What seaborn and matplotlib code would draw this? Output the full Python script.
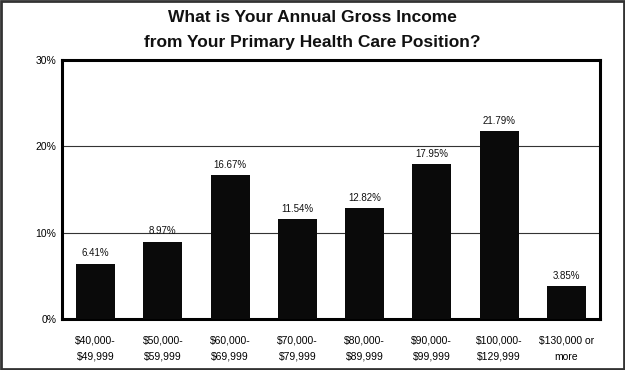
import matplotlib
matplotlib.use("Agg")
import matplotlib.pyplot as plt
import numpy as np
import pandas as pd
import seaborn as sns
from matplotlib import font_manager
from matplotlib.patches import Rectangle
from matplotlib.ticker import FixedLocator

categories = [
    "$40,000-\n$49,999",
    "$50,000-\n$59,999",
    "$60,000-\n$69,999",
    "$70,000-\n$79,999",
    "$80,000-\n$89,999",
    "$90,000-\n$99,999",
    "$100,000-\n$129,999",
    "$130,000 or\nmore",
]
percents = [6.41, 8.97, 16.67, 11.54, 12.82, 17.95, 21.79, 3.85]
y_ticks = [0, 10, 20, 30]
y_tick_labels = ["0%", "10%", "20%", "30%"]
title = "What is Your Annual Gross Income\nfrom Your Primary Health Care Position?"

sns.set_style("white")
plt.rcParams["font.family"] = ["Liberation Sans", "DejaVu Sans"]
plt.rcParams["text.color"] = "black"
plt.rcParams["xtick.color"] = "black"
plt.rcParams["ytick.color"] = "black"

# condensed face if one is around, otherwise plain Liberation Sans
names = {f.name for f in font_manager.fontManager.ttflist}
title_font = "Liberation Sans Narrow" if "Liberation Sans Narrow" in names else "Liberation Sans"
title_size = 14.5 if title_font == "Liberation Sans Narrow" else 12.5

df = pd.DataFrame({"category": categories, "percent": percents})

fig = plt.figure(figsize=(6.25, 3.7), dpi=100)
ax = fig.add_axes([62 / 625, 1 - 319 / 370, 538 / 625, 259 / 370])

sns.barplot(data=df, x="category", y="percent", color="#0a0a0a",
            width=0.58, saturation=1, edgecolor="#0a0a0a", linewidth=0,
            ax=ax, zorder=3)

for i, v in enumerate(percents):
    ax.text(i, v + 0.6, f"{v:.2f}%", ha="center", va="bottom", fontsize=7, color="#111111")

ax.set_ylim(0, 30)
ax.set_xlim(-0.5, len(categories) - 0.5)
ax.set_yticks(y_ticks)
ax.set_yticklabels(y_tick_labels, fontsize=7.5)
ax.yaxis.grid(True, color="#333333", linewidth=0.8, zorder=0)
ax.set_axisbelow(True)

ax.tick_params(axis="x", which="major", length=0, labelsize=7.5, pad=12)
for lbl in ax.get_xticklabels():
    lbl.set_linespacing(1.75)
ax.xaxis.set_minor_locator(FixedLocator(np.arange(-0.5, len(categories), 1)))
ax.tick_params(axis="x", which="minor", length=4, width=1, color="black", direction="out")
ax.tick_params(axis="y", which="major", length=3, width=1.5, color="black", direction="out", pad=1)
ax.set_xlabel("")
ax.set_ylabel("")

for s in ax.spines.values():
    s.set_visible(True)
    s.set_color("black")
    s.set_linewidth(2.2)

fig.text(0.5, 1 - 30 / 370, title, ha="center", va="center", fontsize=title_size,
         fontweight="bold", family=[title_font, "DejaVu Sans"],
         linespacing=1.75, color="#111111")

fig.patches.append(Rectangle((0.002, 0.003), 0.996, 0.994, transform=fig.transFigure,
                             fill=False, edgecolor="#333333", linewidth=2))

fig.savefig("out.png", dpi=100)
